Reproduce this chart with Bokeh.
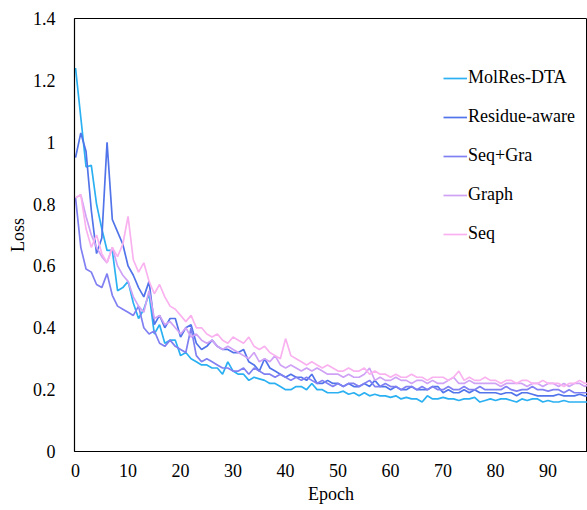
from bokeh.plotting import figure
from bokeh.models import Legend, LegendItem, Range1d, FixedTicker
from bokeh.embed import file_html
from bokeh.resources import INLINE

epochs = list(range(100))

molres_dta = [1.24, 1.08, 0.92, 0.925, 0.80, 0.72, 0.65, 0.65, 0.52, 0.53,
              0.55, 0.48, 0.43, 0.46, 0.51, 0.38, 0.41, 0.35, 0.36, 0.36,
              0.31, 0.32, 0.30, 0.29, 0.28, 0.28, 0.27, 0.27, 0.25, 0.29,
              0.26, 0.25, 0.25, 0.23, 0.24, 0.235, 0.23, 0.22, 0.22, 0.21,
              0.20, 0.20, 0.21, 0.21, 0.20, 0.22, 0.20, 0.20, 0.19, 0.19,
              0.19, 0.195, 0.185, 0.19, 0.18, 0.19, 0.18, 0.185, 0.18, 0.18,
              0.175, 0.18, 0.17, 0.175, 0.17, 0.17, 0.16, 0.18, 0.17, 0.17,
              0.175, 0.17, 0.17, 0.165, 0.17, 0.17, 0.175, 0.16, 0.165, 0.17,
              0.165, 0.17, 0.17, 0.165, 0.16, 0.17, 0.165, 0.17, 0.17, 0.16,
              0.165, 0.16, 0.16, 0.165, 0.16, 0.16, 0.16, 0.16, 0.16, 0.16]

residue_aware = [0.95, 1.03, 0.97, 0.78, 0.64, 0.69, 1.00, 0.75, 0.71, 0.67,
                 0.60, 0.57, 0.53, 0.50, 0.55, 0.41, 0.44, 0.40, 0.43, 0.43,
                 0.37, 0.40, 0.41, 0.35, 0.33, 0.34, 0.36, 0.34, 0.33, 0.33,
                 0.32, 0.32, 0.33, 0.29, 0.28, 0.26, 0.30, 0.27, 0.26, 0.25,
                 0.24, 0.25, 0.24, 0.24, 0.23, 0.25, 0.22, 0.22, 0.23, 0.22,
                 0.22, 0.21, 0.22, 0.21, 0.21, 0.22, 0.21, 0.23, 0.21, 0.21,
                 0.20, 0.21, 0.20, 0.20, 0.21, 0.20, 0.20, 0.20, 0.21, 0.21,
                 0.19, 0.20, 0.19, 0.19, 0.20, 0.19, 0.20, 0.19, 0.19, 0.19,
                 0.19, 0.185, 0.19, 0.19, 0.18, 0.19, 0.19, 0.185, 0.18, 0.18,
                 0.18, 0.18, 0.185, 0.18, 0.18, 0.18, 0.185, 0.18, 0.18, 0.18]

seq_gra = [0.82, 0.66, 0.59, 0.58, 0.54, 0.53, 0.575, 0.505, 0.47, 0.46,
           0.45, 0.44, 0.47, 0.40, 0.38, 0.39, 0.35, 0.34, 0.36, 0.34,
           0.33, 0.32, 0.40, 0.31, 0.29, 0.30, 0.29, 0.28, 0.27, 0.27,
           0.26, 0.26, 0.27, 0.25, 0.27, 0.26, 0.25, 0.25, 0.24, 0.25,
           0.24, 0.23, 0.24, 0.23, 0.24, 0.23, 0.22, 0.23, 0.22, 0.21,
           0.22, 0.21, 0.22, 0.22, 0.21, 0.22, 0.23, 0.21, 0.21, 0.22,
           0.21, 0.21, 0.20, 0.21, 0.21, 0.20, 0.21, 0.20, 0.21, 0.20,
           0.20, 0.21, 0.20, 0.20, 0.21, 0.20, 0.20, 0.21, 0.20, 0.20,
           0.20, 0.20, 0.21, 0.20, 0.195, 0.20, 0.20, 0.21, 0.20, 0.20,
           0.195, 0.20, 0.20, 0.19, 0.20, 0.19, 0.19, 0.19, 0.19, 0.19]

graph = [0.82, 0.83, 0.76, 0.70, 0.66, 0.63, 0.61, 0.66, 0.60, 0.57,
         0.55, 0.50, 0.47, 0.45, 0.52, 0.43, 0.44, 0.41, 0.42, 0.40,
         0.38, 0.40, 0.37, 0.38, 0.36, 0.35, 0.36, 0.34, 0.33, 0.34,
         0.33, 0.32, 0.31, 0.30, 0.32, 0.29, 0.30, 0.29, 0.31, 0.28,
         0.27, 0.28, 0.27, 0.26, 0.27, 0.26, 0.27, 0.26, 0.25, 0.25,
         0.25, 0.24, 0.25, 0.24, 0.24, 0.25, 0.27, 0.23, 0.24, 0.23,
         0.23, 0.24, 0.23, 0.23, 0.22, 0.23, 0.23, 0.22, 0.23, 0.22,
         0.22, 0.23, 0.24, 0.22, 0.22, 0.23, 0.22, 0.22, 0.22, 0.22,
         0.22, 0.21, 0.22, 0.22, 0.22, 0.22, 0.21, 0.22, 0.22, 0.21,
         0.22, 0.22, 0.21, 0.22, 0.21, 0.22, 0.22, 0.21, 0.22, 0.22]

seq = [0.82, 0.83, 0.72, 0.66, 0.70, 0.64, 0.61, 0.66, 0.63, 0.67,
       0.76, 0.62, 0.58, 0.61, 0.55, 0.51, 0.54, 0.50, 0.47, 0.46,
       0.44, 0.42, 0.44, 0.40, 0.40, 0.38, 0.37, 0.38, 0.36, 0.35,
       0.37, 0.36, 0.35, 0.37, 0.34, 0.33, 0.34, 0.32, 0.31, 0.30,
       0.365, 0.31, 0.30, 0.29, 0.28, 0.29, 0.28, 0.27, 0.28, 0.27,
       0.26, 0.26, 0.27, 0.26, 0.26, 0.27, 0.25, 0.26, 0.25, 0.25,
       0.24, 0.25, 0.24, 0.24, 0.25, 0.24, 0.24, 0.23, 0.24, 0.24,
       0.24, 0.23, 0.24, 0.26, 0.23, 0.24, 0.23, 0.23, 0.24, 0.23,
       0.23, 0.22, 0.23, 0.23, 0.22, 0.23, 0.23, 0.22, 0.22, 0.23,
       0.22, 0.22, 0.22, 0.21, 0.22, 0.22, 0.23, 0.22, 0.22, 0.23]

series_names = ["MolRes-DTA", "Residue-aware", "Seq+Gra", "Graph", "Seq"]
series_values = [molres_dta, residue_aware, seq_gra, graph, seq]
series_colors = ["#2bb0f2", "#5274ea", "#8080f2", "#cfa2f5", "#f9b2ef"]

x_ticks = [0, 10, 20, 30, 40, 50, 60, 70, 80, 90]
y_ticks = [0, 0.2, 0.4, 0.6, 0.8, 1.0, 1.2, 1.4]
y_tick_labels = ["0", "0.2", "0.4", "0.6", "0.8", "1", "1.2", "1.4"]

FONT = "Liberation Serif"

p = figure(width=587, height=510, output_backend="svg", toolbar_location=None,
           min_border_left=74, min_border_right=0, min_border_top=18, min_border_bottom=59,
           x_range=Range1d(-0.2, 97.5), y_range=Range1d(0, 1.4))

p.xgrid.visible = False
p.ygrid.visible = False
p.outline_line_color = "black"
p.outline_line_width = 1

for ax in (p.xaxis[0], p.yaxis[0]):
    ax.axis_line_color = "black"
    ax.axis_line_width = 1.2
    ax.major_tick_out = 0
    ax.major_tick_in = 0
    ax.minor_tick_out = 0
    ax.minor_tick_in = 0
    ax.major_label_text_font = FONT
    ax.major_label_text_font_size = "18px"
    ax.major_label_text_color = "black"
    ax.axis_label_text_font = FONT
    ax.axis_label_text_font_size = "18px"
    ax.axis_label_text_font_style = "normal"
    ax.axis_label_text_color = "black"

p.xaxis.ticker = FixedTicker(ticks=x_ticks)
p.yaxis.ticker = FixedTicker(ticks=y_ticks)
p.yaxis.major_label_overrides = {t: l for t, l in zip(y_ticks, y_tick_labels)}
p.xaxis.axis_label = "Epoch"
p.yaxis.axis_label = "Loss"
p.xaxis.major_label_standoff = 12
p.xaxis.axis_label_standoff = 4
p.yaxis.major_label_standoff = 19
p.yaxis.axis_label_standoff = 2

items = []
for name, vals, col in zip(series_names, series_values, series_colors):
    r = p.line(epochs, vals, line_color=col, line_width=1.7)
    items.append(LegendItem(label=name, renderers=[r]))

legend = Legend(items=items, location=(369, 207), padding=0, margin=0,
                spacing=18, label_height=20, glyph_height=20, glyph_width=24,
                label_standoff=1, label_text_font=FONT, label_text_font_size="18px",
                label_text_color="black", border_line_color=None,
                background_fill_alpha=0)
p.add_layout(legend)

open("out.html", "w").write(file_html(p, INLINE))
